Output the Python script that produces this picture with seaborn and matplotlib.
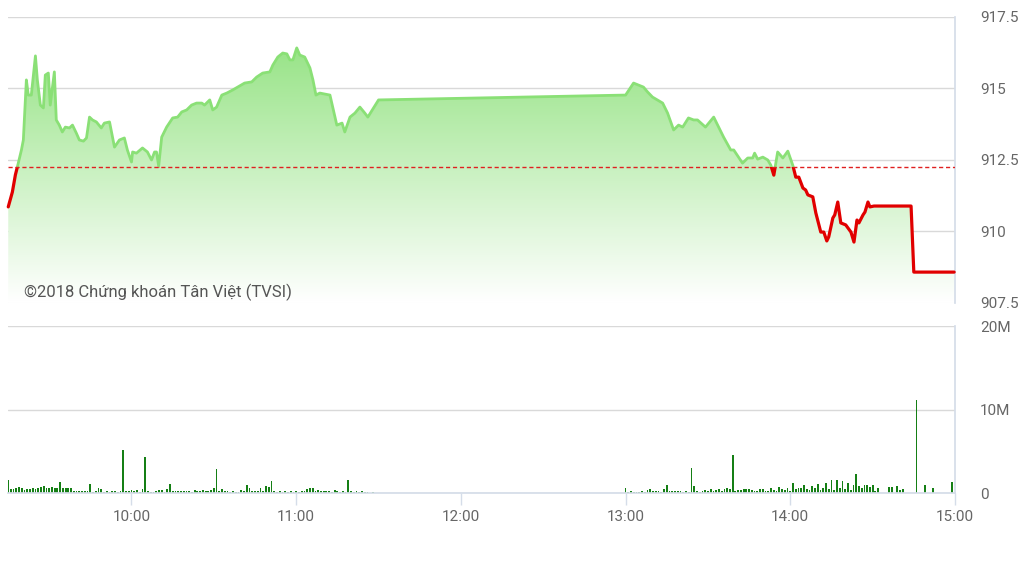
import numpy as np
import pandas as pd
import matplotlib
matplotlib.use("Agg")
import matplotlib.pyplot as plt
import seaborn as sns
from matplotlib.patches import Rectangle
from matplotlib.colors import LinearSegmentedColormap

# price trace: minutes after 09:00 and index value
price_min = [15.1, 16.6, 17.7, 18.4, 19.9, 20.6, 21.7, 22.4, 23.5, 25.0, 25.7, 26.8, 27.9, 28.6,
             29.7, 30.4, 31.9, 32.6, 33.7, 34.8, 35.9, 37.4, 38.5, 39.9, 41.0, 42.5, 43.6, 44.7,
             45.8, 47.2, 49.0, 50.1, 52.0, 53.8, 55.6, 57.4, 58.5, 60.0, 60.4, 61.8, 64.0, 65.8,
             67.3, 68.4, 69.1, 69.9, 71.0, 72.8, 75.0, 76.8, 78.3, 80.1, 81.9, 83.7, 85.6, 86.6,
             88.5, 89.6, 91.0, 92.9, 94.7, 96.9, 98.7, 101.2, 103.8, 105.6, 107.8, 110.4, 111.5,
             113.3, 115.1, 116.6, 117.7, 118.8, 120.2, 121.3, 123.1, 125.0, 126.1, 127.2, 128.6,
             132.3, 134.8, 136.7, 137.7, 139.6, 141.4, 143.2, 145.0, 146.1, 150.0,
             240.0, 242.9, 245.4, 246.5, 248.0, 249.8, 251.6, 253.5, 255.3, 257.5, 259.3, 260.8,
             262.9, 264.8, 266.2, 269.1, 272.1, 275.7, 278.3, 279.4, 282.6, 284.5, 286.3, 287.0,
             288.1, 290.0, 291.8, 292.9, 294.0, 295.4, 297.3, 299.1, 300.9, 302.0, 303.1, 304.6,
             305.6, 306.4, 308.2, 309.3, 311.1, 312.2, 313.3, 314.0, 315.5, 316.2, 317.3, 318.4,
             320.2, 322.1, 323.2, 324.3, 325.0, 326.5, 327.2, 328.3, 329.0, 330.5, 344.0, 345.0,
             359.7]
price = [910.86, 911.38, 911.98, 912.25, 912.85, 913.20, 915.30, 914.77, 914.77, 916.14, 915.30,
         914.42, 914.32, 915.47, 915.54, 914.42, 915.58, 913.90, 913.72, 913.48, 913.65, 913.62,
         913.72, 913.44, 913.20, 913.16, 913.27, 914.00, 913.90, 913.83, 913.62, 913.79, 913.83,
         912.95, 913.20, 913.27, 912.85, 912.43, 912.78, 912.74, 912.92, 912.78, 912.50, 912.78,
         912.78, 912.29, 913.30, 913.65, 913.97, 914.00, 914.18, 914.25, 914.42, 914.49, 914.49,
         914.42, 914.60, 914.25, 914.35, 914.77, 914.84, 914.95, 915.05, 915.19, 915.23, 915.40,
         915.54, 915.58, 915.82, 916.10, 916.24, 916.21, 916.00, 916.00, 916.42, 916.17, 916.10,
         915.72, 915.30, 914.77, 914.84, 914.77, 913.72, 913.79, 913.48, 914.00, 914.14, 914.35,
         914.14, 914.00, 914.60,
         914.77, 915.19, 915.09, 915.05, 914.88, 914.70, 914.60, 914.49, 914.14, 913.55, 913.72,
         913.65, 913.97, 913.90, 913.90, 913.65, 914.00, 913.30, 912.85, 912.85, 912.39, 912.57,
         912.57, 912.74, 912.53, 912.60, 912.50, 912.32, 911.97, 912.78, 912.57, 912.81, 912.32,
         911.90, 911.90, 911.52, 911.45, 911.28, 911.21, 910.65, 909.98, 909.98, 909.67, 909.81,
         910.47, 910.58, 911.03, 910.30, 910.23, 909.98, 909.63, 910.40, 910.30, 910.58, 910.68,
         911.03, 910.86, 910.89, 910.89, 908.58, 908.58]
ref_price = 912.25

# volume (millions), one bar per minute
vol_am_start = 15
vol_am = [1.6, 0.45, 0.45, 0.6, 0.75, 0.55, 0.4, 0.5, 0.5, 0.55, 0.5, 0.6, 0.75, 0.8, 0.65,
          0.6, 0.75, 0.55, 0.6, 1.3, 0.6, 0.55, 0.6, 0.6, 0.3, 0.25, 0.3, 0.25, 0.2, 0.3,
          1.1, 0.15, 0.25, 0.55, 0.45, 0.1, 0.2, 0.1, 0.25, 0.2, 0.1, 0.2, 5.1, 0.3, 0.2,
          0.35, 0.3, 0.4, 0.15, 0.45, 4.3, 0.25, 0.15, 0.1, 0.2, 0.35, 0.4, 0.15, 0.45, 1.1,
          0.3, 0.25, 0.2, 0.2, 0.3, 0.25, 0.3, 0.15, 0.35, 0.3, 0.25, 0.35, 0.3, 0.3, 0.35,
          0.55, 2.9, 0.3, 0.45, 0.2, 0.25, 0.15, 0.2, 0.1, 0.15, 0.35, 0.3, 0.9, 0.6, 0.3,
          0.25, 0.2, 0.55, 0.3, 0.8, 0.75, 1.45, 0.2, 0.15, 0.2, 0.15, 0.2, 0.1, 0.2, 0.15,
          0.2, 0.15, 0.25, 0.3, 0.5, 0.55, 0.6, 0.3, 0.4, 0.25, 0.3, 0.2, 0.3, 0.15, 0.35,
          0.2, 0.1, 0.25, 0.15, 1.6, 0.2, 0.15, 0.25, 0.1, 0.2, 0.1, 0.1, 0.05, 0.1, 0.05]
vol_pm_start = 240
vol_pm = [0.6, 0.15, 0.2, 0.1, 0.15, 0.1, 0.2, 0.15, 0.4, 0.45, 0.3, 0.2, 0.25, 0.15, 0.5,
          0.9, 0.2, 0.3, 0.25, 0.2, 0.25, 0.15, 0.3, 0.1, 3.0, 0.8, 0.2, 0.15, 0.3, 0.4,
          0.3, 0.5, 0.25, 0.35, 0.5, 0.3, 0.45, 0.6, 0.5, 4.6, 0.3, 0.4, 0.35, 0.5, 0.45,
          0.5, 0.4, 0.3, 0.3, 0.45, 0.5, 0.3, 0.25, 0.6, 0.4, 0.3, 0.7, 0.5, 0.4, 0.6,
          0.3, 1.2, 0.5, 0.55, 0.6, 0.9, 0.5, 0.4, 0.8, 0.6, 1.1, 0.35, 0.6, 1.25, 0.5,
          1.5, 0.4, 1.5, 0.6, 1.4, 0.5, 1.2, 0.4, 0.9, 2.3, 0.8, 0.6, 1.0, 0.9, 0.7,
          0.9, 0.3, 0.6, 0.0, 0.0, 0.0, 0.7, 0.75, 0.0, 0.8, 0.4, 0.45]
vol_late_min = [346, 349, 352, 359]
vol_late = [11.1, 1.0, 0.6, 1.3]

hour_ticks = [60, 120, 180, 240, 300, 360]
hour_labels = ["10:00", "11:00", "12:00", "13:00", "14:00", "15:00"]
price_ticks = [907.5, 910, 912.5, 915, 917.5]
price_labels = ["907.5", "910", "912.5", "915", "917.5"]
vol_ticks = [0, 10, 20]
vol_labels = ["0", "10M", "20M"]

sns.set_theme(style="white")
plt.rcParams["font.family"] = ["Roboto", "DejaVu Sans"]

GREEN = "#8ae076"
RED = "#e10000"
GRID = "#d9d9d9"
AXIS = "#d5dde9"
TXT = "#666666"
XMIN, XMAX = 15, 360
PLO, PHI = 907.5, 917.5

fig = plt.figure(figsize=(10.36, 5.82), dpi=100)
ax1 = fig.add_axes([0.0077, 0.4794, 0.9141, 0.4914])
ax2 = fig.add_axes([0.0077, 0.1529, 0.9141, 0.2869])

# ---- price panel
df = pd.DataFrame({"t": price_min, "p": price})

poly = ax1.fill_between(df["t"], df["p"], PLO, facecolor="none", edgecolor="none")
cmap = LinearSegmentedColormap.from_list("fade", ["#ffffff", "#8ae077"])
grad = np.linspace(0, 1, 256).reshape(-1, 1)
im = ax1.imshow(grad, extent=[XMIN, XMAX, PLO, PHI], origin="lower", aspect="auto",
                cmap=cmap, vmin=0, vmax=1.02, zorder=1)
im.set_clip_path(poly.get_paths()[0], transform=ax1.transData)

sns.lineplot(data=df, x="t", y="p", ax=ax1, color=GREEN, linewidth=2,
             estimator=None, sort=False, zorder=3)
up = ax1.lines[-1]
up.set_clip_path(Rectangle((XMIN - 5, ref_price), XMAX - XMIN + 10, 20, transform=ax1.transData))
sns.lineplot(data=df, x="t", y="p", ax=ax1, color=RED, linewidth=2.3,
             estimator=None, sort=False, zorder=3)
down = ax1.lines[-1]
down.set_clip_path(Rectangle((XMIN - 5, ref_price - 20), XMAX - XMIN + 10, 20, transform=ax1.transData))

ax1.axhline(ref_price, color="#e02020", linewidth=1, dashes=(3, 2), zorder=4)

ax1.set_xlim(XMIN, XMAX)
ax1.set_ylim(PLO, PHI)
ax1.set_yticks(price_ticks)
ax1.set_yticklabels(price_labels)
ax1.set_xticks([])
ax1.yaxis.tick_right()
ax1.tick_params(axis="y", length=0, pad=18, labelsize=11, labelcolor=TXT)
ax1.grid(axis="y", color=GRID, linewidth=1)
ax1.set_axisbelow(True)
for side in ["top", "left", "bottom"]:
    ax1.spines[side].set_visible(False)
ax1.spines["right"].set_color(AXIS)
ax1.set_xlabel("")
ax1.set_ylabel("")
ax1.text(0.017, 0.022, "©2018 Chứng khoán Tân Việt (TVSI)", transform=ax1.transAxes,
         fontsize=12, color="#555555", va="baseline", zorder=5)

# ---- volume panel
vt = list(range(vol_am_start, vol_am_start + len(vol_am))) + \
     list(range(vol_pm_start, vol_pm_start + len(vol_pm))) + vol_late_min
vv = vol_am + vol_pm + vol_late
vdf = pd.DataFrame({"t": vt, "v": vv})
sns.histplot(data=vdf, x="t", weights="v", discrete=True, shrink=0.65, ax=ax2,
             color="#157f15", edgecolor=None, linewidth=0, alpha=1)

ax2.set_xlim(XMIN, XMAX)
ax2.set_ylim(0, 20)
ax2.set_yticks(vol_ticks)
ax2.set_yticklabels(vol_labels)
ax2.set_xticks(hour_ticks)
ax2.set_xticklabels(hour_labels)
ax2.yaxis.tick_right()
ax2.tick_params(axis="y", length=0, pad=18, labelsize=11, labelcolor=TXT)
ax2.tick_params(axis="x", length=8.5, width=1, color=AXIS, pad=3.5, labelsize=11,
                labelcolor=TXT, bottom=True)
ax2.grid(axis="y", color=GRID, linewidth=1)
ax2.set_axisbelow(True)
for side in ["top", "left"]:
    ax2.spines[side].set_visible(False)
ax2.spines["right"].set_color(AXIS)
ax2.spines["bottom"].set_color(AXIS)
ax2.set_xlabel("")
ax2.set_ylabel("")

fig.savefig("out.png", dpi=100)
